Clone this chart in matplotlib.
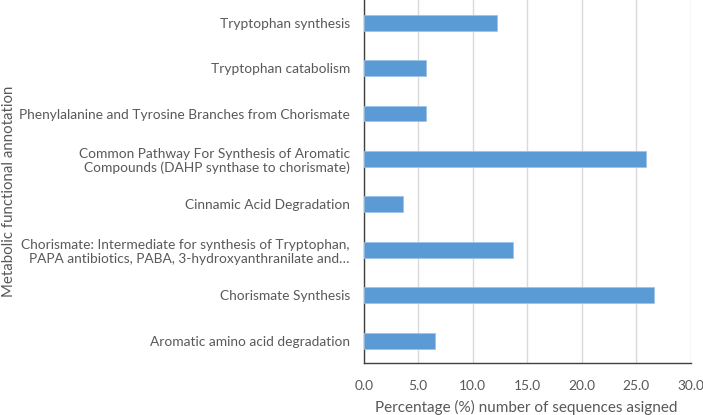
import matplotlib
matplotlib.use("Agg")
import matplotlib.pyplot as plt

categories = [
    "Tryptophan synthesis",
    "Tryptophan catabolism",
    "Phenylalanine and Tyrosine Branches from Chorismate",
    "Common Pathway For Synthesis of Aromatic\nCompounds (DAHP synthase to chorismate)",
    "Cinnamic Acid Degradation",
    "Chorismate: Intermediate for synthesis of Tryptophan,\nPAPA antibiotics, PABA, 3-hydroxyanthranilate and\u2026",
    "Chorismate Synthesis",
    "Aromatic amino acid degradation",
]
values = [12.2, 5.75, 5.75, 25.9, 3.6, 13.65, 26.6, 6.5]
xticks = [0, 5, 10, 15, 20, 25, 30]
xticklabels = ["0.0", "5.0", "10.0", "15.0", "20.0", "25.0", "30.0"]

plt.rcParams['font.family'] = ['Lato', 'DejaVu Sans']
gray = "#595959"

fig = plt.figure(figsize=(7.03, 4.15), dpi=100)
ax = fig.add_axes([0.5174, 0.1246, 0.9825 - 0.5174, 0.8754])

pos = list(range(len(categories)))
ax.barh(pos, values, height=0.35, color="#5b9bd5", edgecolor="#9dc3e6", linewidth=0.6, zorder=3)
ax.set_ylim(len(categories) - 0.5, -0.5)
ax.set_xlim(0, 30)
ax.set_xticks(xticks)
ax.set_xticklabels(xticklabels, fontsize=9.9, color=gray)
ax.set_yticks(pos)
ax.set_yticklabels(categories, fontsize=9.9, color=gray, linespacing=1.2)
ax.tick_params(axis='both', length=0)
ax.tick_params(axis='y', pad=10)
ax.tick_params(axis='x', pad=12)
ax.grid(axis='x', color="#d9d9d9", linewidth=1.0, zorder=0)
for s in ['top', 'right']:
    ax.spines[s].set_visible(False)
for s in ['left', 'bottom']:
    ax.spines[s].set_color("#404040")
    ax.spines[s].set_linewidth(1.0)
fig.text(0.749, 0.017, "Percentage (%) number of sequences asigned", fontsize=11,
         color=gray, ha='center', va='center')
fig.text(0.003, 0.54, "Metabolic functional annotation", rotation=90, fontsize=10.8,
         color=gray, ha='left', va='center')

fig.savefig("out.png", dpi=100)
